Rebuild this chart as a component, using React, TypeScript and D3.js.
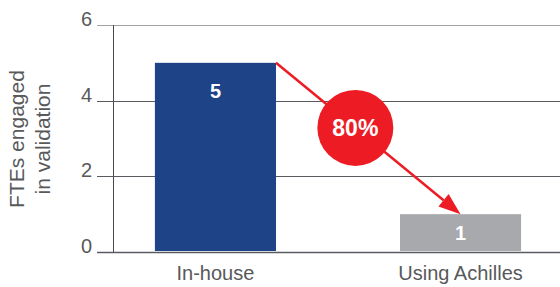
import * as d3 from 'd3';

const categories = ['In-house', 'Using Achilles'];
const values = [5, 1];
const barColors = ['#1e4387', '#a7a9ac'];
const yTicks = [0, 2, 4, 6];
const yTitle = ['FTEs engaged', 'in validation'];

const width = 560;
const height = 287;
const font = '"Liberation Sans", Arial, Helvetica, sans-serif';
const textColor = '#58595b';
const red = '#ed1c24';

export default function App() {
  const x = d3.scaleBand<string>().domain(categories).range([113, 563]).paddingInner(0.506).paddingOuter(0.171);
  const y = d3.scaleLinear().domain([0, 6]).range([252, 25]);
  const bw = x.bandwidth();
  const left = 113;
  const tickStart = 97;

  // arrow from top-right of first bar to top-centre of second bar
  const x0 = (x(categories[0]) as number) + bw;
  const y0 = y(values[0]);
  const x1 = (x(categories[1]) as number) + bw / 2;
  const y1 = y(values[1]);
  const ang = Math.atan2(y1 - y0, x1 - x0);
  const headLen = 22;
  const headHalf = 8;
  const bx = x1 - headLen * Math.cos(ang);
  const by = y1 - headLen * Math.sin(ang);
  const nx = -Math.sin(ang);
  const ny = Math.cos(ang);
  const head = [
    [x1, y1],
    [bx + nx * headHalf, by + ny * headHalf],
    [bx - nx * headHalf, by - ny * headHalf],
  ];
  const t = 0.43;
  const cx = x0 + (x1 - x0) * t;
  const cy = y0 + (y1 - y0) * t;
  const pct = Math.round((1 - values[1] / values[0]) * 100);

  return (
    <svg width={width} height={height} style={{ position: 'absolute', left: 0, top: 0 }} fontFamily={font}>
      {/* grid lines + ticks */}
      {yTicks.map((v) => (
        <g key={v}>
          <line x1={tickStart} x2={width} y1={Math.round(y(v)) + 0.5} y2={Math.round(y(v)) + 0.5} stroke={v === 6 ? '#a0a1a3' : '#5a5b60'} strokeWidth={v === 0 ? 1.5 : 1} />
          <text x={92} y={y(v) + 1} textAnchor="end" fontSize={20} fill={textColor}>
            {v}
          </text>
        </g>
      ))}
      <line x1={left + 0.5} x2={left + 0.5} y1={y(6)} y2={y(0)} stroke="#4a4b52" strokeWidth={1} />

      {/* bars */}
      {categories.map((c, i) => {
        const top = y(values[i]);
        const labelY = Math.min(top + 35, (top + y(0)) / 2 + 7);
        return (
          <g key={c}>
            <rect x={x(c)} y={top} width={bw} height={y(0) - top - 1} fill={barColors[i]} />
            <text x={(x(c) as number) + bw / 2} y={labelY} textAnchor="middle" fontSize={20} fontWeight="bold" fill="#fff">
              {values[i]}
            </text>
            <text x={(x(c) as number) + bw / 2} y={280} textAnchor="middle" fontSize={20} fill={textColor}>
              {c}
            </text>
          </g>
        );
      })}

      {/* y title */}
      <g transform="rotate(-90)">
        {yTitle.map((s, i) => (
          <text key={s} x={-139} y={24 + i * 26} textAnchor="middle" fontSize={21} fill={textColor}>
            {s}
          </text>
        ))}
      </g>

      {/* reduction arrow */}
      <line x1={x0} y1={y0} x2={bx} y2={by} stroke={red} strokeWidth={2.5} />
      <polygon points={head.map((p) => p.join(',')).join(' ')} fill={red} />
      <circle cx={cx} cy={cy} r={38} fill={red} />
      <text x={cx} y={cy + 8} textAnchor="middle" fontSize={23} fontWeight="bold" fill="#fff">
        {pct}%
      </text>
    </svg>
  );
}
